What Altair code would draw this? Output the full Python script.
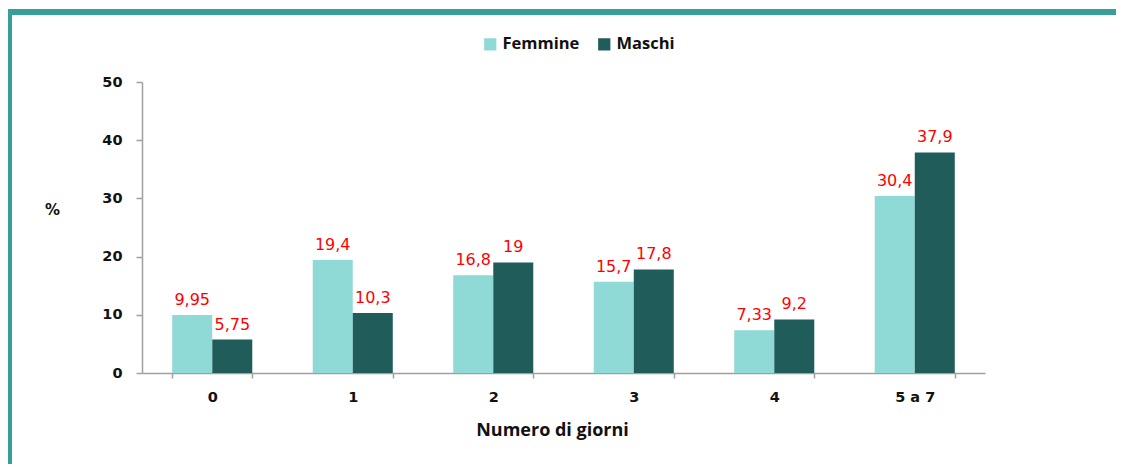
import altair as alt
import pandas as pd

categories = ["0", "1", "2", "3", "4", "5 a 7"]
femmine = [9.95, 19.4, 16.8, 15.7, 7.33, 30.4]
maschi = [5.75, 10.3, 19, 17.8, 9.2, 37.9]
series = ["Femmine", "Maschi"]
colors = ["#8fd9d6", "#1f5c5a"]

rows = []
for c, f, m in zip(categories, femmine, maschi):
    rows.append({"giorni": c, "sesso": "Femmine", "valore": f, "lab": str(f).replace(".", ",")})
    rows.append({"giorni": c, "sesso": "Maschi", "valore": m, "lab": str(m).replace(".", ",")})
df = pd.DataFrame(rows)

W, H = 843, 291
PL, PT, PR, PB = 134, 74, 131, 91

x = alt.X("giorni:N", sort=categories,
          scale=alt.Scale(paddingInner=0.43, paddingOuter=0.215),
          axis=alt.Axis(title="Numero di giorni", labelAngle=0, tickBand="extent",
                        labelFont="DejaVu Sans", labelFontWeight="bold", labelFontSize=14.5,
                        labelColor="#111", labelPadding=12, tickSize=5,
                        titleFont="Open Sans", titleFontWeight="bold", titleFontSize=18,
                        titleColor="#111", titlePadding=18, titleX=410))
xo = alt.XOffset("sesso:N", sort=series)
y = alt.Y("valore:Q", scale=alt.Scale(domain=[0, 50]),
          axis=alt.Axis(values=[0, 10, 20, 30, 40, 50], grid=False, title="%",
                        titleAngle=0, titleX=-90, titleY=127, titleAlign="center",
                        titleBaseline="middle", titleFont="DejaVu Sans",
                        titleFontWeight="bold", titleFontSize=15, titleColor="#111",
                        labelFont="DejaVu Sans", labelFontWeight="bold", labelFontSize=14.5,
                        labelColor="#111", labelPadding=14, tickSize=6))

base = alt.Chart(df)
bars = base.mark_bar(size=40).encode(
    x=x, xOffset=xo, y=y,
    color=alt.Color("sesso:N", sort=series,
                    scale=alt.Scale(domain=series, range=colors),
                    legend=alt.Legend(title=None, orient="none", legendX=340, legendY=-46,
                                      direction="horizontal", symbolType="square",
                                      symbolSize=150, symbolStrokeWidth=0,
                                      labelFont="Open Sans", labelFontWeight="bold",
                                      labelFontSize=16.5, labelColor="#111",
                                      columnPadding=16, symbolOffset=0)),
)
labels = base.mark_text(dy=-7, baseline="bottom", color="#ff0000",
                        font="DejaVu Sans", fontSize=16).encode(
    x=x, xOffset=xo, y="valore:Q", text="lab:N")

frame_color = "#379e99"
frame = alt.Chart(alt.Data(values=[{}]))
left_border = frame.mark_rule(color=frame_color, strokeWidth=6).encode(
    x=alt.value(1 - PL), y=alt.value(1 - PT), y2=alt.value(H + PB))
top_border = frame.mark_rule(color=frame_color, strokeWidth=6).encode(
    x=alt.value(-PL), x2=alt.value(W + PR), y=alt.value(4 - PT))

chart = alt.layer(bars, labels, left_border, top_border).properties(
    width=W, height=H,
    padding={"left": PL, "top": PT, "right": PR, "bottom": PB},
    autosize=alt.AutoSizeParams(type="none"),
).configure_view(stroke=None).configure_axis(
    domainColor="#a0a0a0", tickColor="#a0a0a0", domainWidth=1.5, tickWidth=1.5
)

chart.save("out.html", embed_options={"renderer": "svg", "actions": False})
